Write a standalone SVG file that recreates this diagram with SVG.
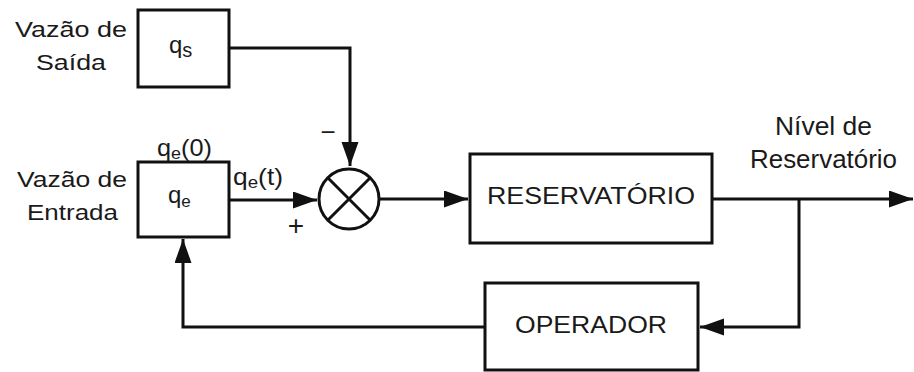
<svg xmlns="http://www.w3.org/2000/svg" width="914" height="372" viewBox="0 0 914 372">
<style>
.box{fill:#fff;stroke:#111;stroke-width:3}
.ln{fill:none;stroke:#111;stroke-width:3}
.ar{fill:none;stroke:#111;stroke-width:3;marker-end:url(#ah)}
text{font-family:"Liberation Sans",Arial,sans-serif;fill:#1a1a1a}
.lbl{font-size:22.5px}
.big{font-size:24.5px}
.q{font-size:24px}
.sub{font-size:17px}
</style>
<defs>
<marker id="ah" markerUnits="userSpaceOnUse" markerWidth="26" markerHeight="18" refX="24" refY="8.5" orient="auto">
<path d="M0,0 L24,8.5 L0,17 z" fill="#111"/>
</marker>
</defs>
<rect width="914" height="372" fill="#fff"/>
<g id="connectors">
<path class="ar" d="M229,48 H350 V166"/>
<path class="ar" d="M229,200 H317"/>
<path class="ar" d="M380,199 H468"/>
<path class="ar" d="M712,199 H913"/>
<path class="ar" d="M799,199 V327 H700"/>
<path class="ar" d="M485,327 H183 V239"/>
</g>
<g id="label-saida">
<text class="lbl" x="15" y="37" textLength="112" lengthAdjust="spacingAndGlyphs">Vazão de</text>
<text class="lbl" x="36" y="70" textLength="70" lengthAdjust="spacingAndGlyphs">Saída</text>
</g>
<g id="node-qs">
<rect class="box" x="138" y="10" width="91" height="77"/>
<text class="q" x="169" y="53">q<tspan font-size="20" dy="4">s</tspan></text>
</g>
<g id="label-entrada">
<text class="lbl" x="17" y="187" textLength="110" lengthAdjust="spacingAndGlyphs">Vazão de</text>
<text class="lbl" x="27" y="220" textLength="91" lengthAdjust="spacingAndGlyphs">Entrada</text>
</g>
<g id="node-qe">
<rect class="box" x="138" y="162" width="91" height="75"/>
<text class="q" x="168" y="203">q<tspan class="sub" dy="4">e</tspan></text>
<text class="q" x="157" y="156" textLength="55" lengthAdjust="spacingAndGlyphs">q<tspan class="sub" dy="3">e</tspan><tspan dy="-3">(0)</tspan></text>
<text class="q" x="233" y="185" textLength="50" lengthAdjust="spacingAndGlyphs">q<tspan class="sub" dy="3">e</tspan><tspan dy="-3">(t)</tspan></text>
</g>
<g id="node-sum">
<circle cx="349" cy="199" r="30" class="ln"/>
<path class="ln" d="M328,178 L370,220 M370,178 L328,220"/>
<text x="296" y="235" font-size="28" text-anchor="middle">+</text>
<text x="328" y="141" font-size="26" text-anchor="middle">−</text>
</g>
<g id="node-reservatorio">
<rect class="box" x="470" y="154" width="242" height="89"/>
<text class="big" x="487" y="204" textLength="208" lengthAdjust="spacingAndGlyphs">RESERVATÓRIO</text>
</g>
<g id="label-nivel">
<text x="775" y="135" font-size="25" textLength="97" lengthAdjust="spacingAndGlyphs">Nível de</text>
<text x="750" y="168" font-size="25" textLength="147" lengthAdjust="spacingAndGlyphs">Reservatório</text>
</g>
<g id="node-operador">
<rect class="box" x="485" y="283" width="213" height="87"/>
<text class="big" x="515" y="333" textLength="152" lengthAdjust="spacingAndGlyphs">OPERADOR</text>
</g>
</svg>
